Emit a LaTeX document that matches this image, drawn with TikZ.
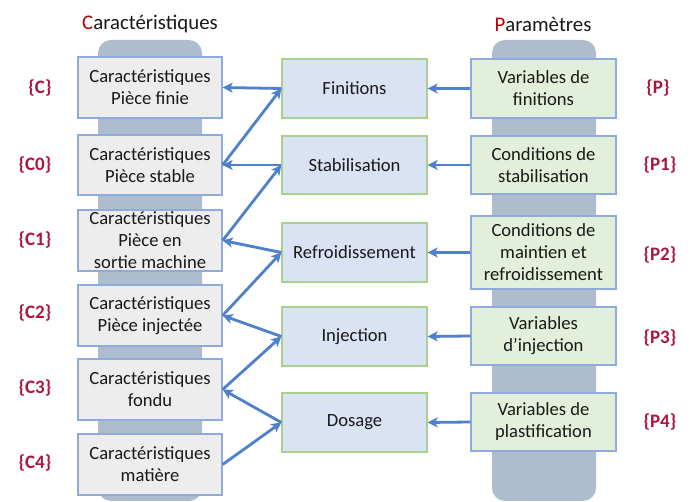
\documentclass[tikz,border=0pt]{standalone}
\usepackage{fontspec}
\setmainfont{Carlito}
\usetikzlibrary{arrows.meta}
\definecolor{band}{RGB}{174,189,206}
\definecolor{lfill}{RGB}{237,237,237}
\definecolor{bborder}{RGB}{143,170,220}
\definecolor{mfill}{RGB}{218,227,243}
\definecolor{gborder}{RGB}{169,209,142}
\definecolor{rfill}{RGB}{226,239,218}
\definecolor{arrowc}{RGB}{78,128,204}
\definecolor{lab}{RGB}{172,22,62}
\definecolor{titred}{RGB}{192,0,0}
\definecolor{txt}{RGB}{25,25,25}
\tikzset{
  box/.style={draw, line width=1.3pt, align=center, inner sep=0pt, text=txt,
    font=\fontsize{18.6}{22}\selectfont},
  lbox/.style={box, fill=lfill, draw=bborder, minimum width=144pt},
  mbox/.style={box, fill=mfill, draw=gborder, minimum width=145pt},
  rbox/.style={box, fill=rfill, draw=bborder, minimum width=145pt},
  tag/.style={text=lab, font=\bfseries\fontsize{19}{21}\selectfont},
  ttl/.style={text=txt, font=\fontsize{20.8}{23}\selectfont},
  arr/.style={draw=arrowc, line width=2.8pt, -{Stealth[length=10pt,width=10pt,inset=2.5pt]}},
}
\begin{document}
\begin{tikzpicture}[x=1pt,y=-1pt]
\useasboundingbox (0,0) rectangle (694,502);
% bands
\fill[band, rounded corners=13pt] (98,40) rectangle (202,501);
\fill[band, rounded corners=13pt] (492,40) rectangle (596,501);
% titles
\node[ttl] (tc) at (150,24) {\textcolor{titred}{C}aractéristiques};
\node[ttl] (tp) at (543,24) {\textcolor{titred}{P}aramètres};
% left boxes
\node[lbox, minimum height=61pt] (C)  at (150,87.5)  {Caractéristiques\\Pièce finie};
\node[lbox, minimum height=60pt] (C0) at (150,165)   {Caractéristiques\\Pièce stable};
\node[lbox, minimum height=61pt] (C1) at (150,240.5) {Caractéristiques\\Pièce en\\sortie machine};
\node[lbox, minimum height=61pt] (C2) at (150,315.5) {Caractéristiques\\Pièce injectée};
\node[lbox, minimum height=61pt] (C3) at (150,389.5) {Caractéristiques\\fondu};
\node[lbox, minimum height=61pt] (C4) at (150,464.5) {Caractéristiques\\matière};
% middle boxes
\node[mbox, minimum height=59pt] (M0) at (354.5,88.5)  {Finitions};
\node[mbox, minimum height=58pt] (M1) at (354.5,165)   {Stabilisation};
\node[mbox, minimum height=59pt] (M2) at (354.5,252.5) {Refroidissement};
\node[mbox, minimum height=59pt] (M3) at (354.5,336.5) {Injection};
\node[mbox, minimum height=59pt] (M4) at (354.5,422.5) {Dosage};
% right boxes
\node[rbox, minimum height=59pt] (P)  at (543.5,88.5)  {Variables de\\finitions};
\node[rbox, minimum height=58pt] (P1) at (543.5,165)   {Conditions de\\stabilisation};
\node[rbox, minimum height=73pt] (P2) at (543.5,252.5) {Conditions de\\maintien et\\refroidissement};
\node[rbox, minimum height=58pt] (P3) at (543.5,336)   {Variables\\d’injection};
\node[rbox, minimum height=58pt] (P4) at (543.5,422)   {Variables de\\plastification};
% tags
\node[tag] (tC)  at (40,88)  {\{C\}};
\node[tag] (tC0) at (35,165) {\{C0\}};
\node[tag] (tC1) at (35,240) {\{C1\}};
\node[tag] (tC2) at (35,313) {\{C2\}};
\node[tag] (tC3) at (35,388) {\{C3\}};
\node[tag] (tC4) at (35,463) {\{C4\}};
\node[tag] (tP)  at (658,88)  {\{P\}};
\node[tag] (tP1) at (660,165) {\{P1\}};
\node[tag] (tP2) at (660,255) {\{P2\}};
\node[tag] (tP3) at (660,338) {\{P3\}};
\node[tag] (tP4) at (660,422) {\{P4\}};
% arrows middle -> left
\draw[arr] (M0.west) -- (C.east);
\draw[arr] (M1.west) -- (C0.east);
\draw[arr] (M2.west) -- (C1.east);
\draw[arr] (M3.west) -- (C2.east);
\draw[arr] (M4.west) -- (C3.east);
% arrows left -> middle
\draw[arr] (C0.east) -- (M0.west);
\draw[arr] (C1.east) -- (M1.west);
\draw[arr] (C2.east) -- (M2.west);
\draw[arr] (C3.east) -- (M3.west);
\draw[arr] (C4.east) -- (M4.west);
% arrows right -> middle
\draw[arr] (P.west)  -- (M0.east);
\draw[arr] (P1.west) -- (M1.east);
\draw[arr] (P2.west) -- (M2.east);
\draw[arr] (P3.west) -- (M3.east);
\draw[arr] (P4.west) -- (M4.east);
\end{tikzpicture}
\end{document}
